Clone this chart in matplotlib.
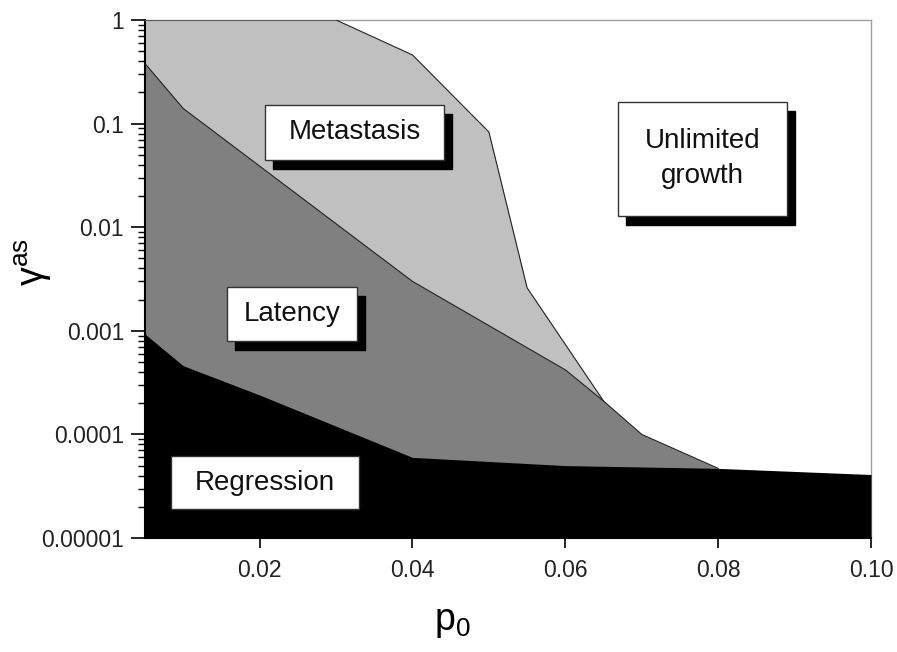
import matplotlib
matplotlib.use("Agg")
import matplotlib.pyplot as plt
from matplotlib.patches import Rectangle
from matplotlib.ticker import FixedLocator, FixedFormatter, LogLocator, NullFormatter

plt.rcParams['font.family'] = ['Liberation Sans', 'DejaVu Sans']
plt.rcParams['mathtext.fontset'] = 'custom'
plt.rcParams['mathtext.rm'] = 'Liberation Sans'
plt.rcParams['mathtext.it'] = 'Liberation Sans'

# ---- data ----
x_meta = [0.005, 0.03, 0.04, 0.05, 0.055, 0.065]
y_meta = [1.0, 1.0, 0.46, 0.083, 0.0026, 0.00021]

x_lat = [0.005, 0.01, 0.04, 0.06, 0.065, 0.07, 0.08]
y_lat = [0.38, 0.14, 0.003, 0.00042, 0.00021, 0.0001, 0.000047]

x_reg = [0.005, 0.01, 0.02, 0.03, 0.04, 0.06, 0.08, 0.10]
y_reg = [0.00093, 0.00046, 0.00024, 0.00012, 0.00006, 0.00005, 0.000047, 0.000041]

x_ticks = [0.02, 0.04, 0.06, 0.08, 0.10]
x_ticklabels = ["0.02", "0.04", "0.06", "0.08", "0.10"]
y_ticks = [1e-5, 1e-4, 1e-3, 1e-2, 1e-1, 1]
y_ticklabels = ["0.00001", "0.0001", "0.001", "0.01", "0.1", "1"]

region_labels = ["Metastasis", "Unlimited\ngrowth", "Latency", "Regression"]

fig = plt.figure(figsize=(8.97, 6.52), dpi=100)
ax = fig.add_axes([145/897, 1-538/652, (871-145)/897, (538-20)/652])
ax.set_yscale('log')
ax.set_xlim(0.005, 0.10)
ax.set_ylim(1e-5, 1)

ymin = 1e-5
ax.fill_between(x_meta, ymin, y_meta, color='#c0c0c0', lw=0, zorder=1)
ax.fill_between(x_lat, ymin, y_lat, color='#808080', lw=0, zorder=2)
ax.fill_between(x_reg, ymin, y_reg, color='black', lw=0, zorder=3)
ax.plot(x_meta, y_meta, color='#222222', lw=0.8, zorder=4)
ax.plot(x_lat, y_lat, color='#222222', lw=0.8, zorder=4)

# spines
for s in ['top', 'right']:
    ax.spines[s].set_color('#a0a0a0')
    ax.spines[s].set_linewidth(1.0)
ax.spines['left'].set_color('black')
ax.spines['left'].set_linewidth(1.5)
ax.spines['bottom'].set_color('black')
ax.spines['bottom'].set_linewidth(1.5)

ax.xaxis.set_major_locator(FixedLocator(x_ticks))
ax.xaxis.set_major_formatter(FixedFormatter(x_ticklabels))
ax.yaxis.set_major_locator(FixedLocator(y_ticks))
ax.yaxis.set_major_formatter(FixedFormatter(y_ticklabels))
ax.yaxis.set_minor_locator(LogLocator(base=10, subs=range(2, 10)))
ax.yaxis.set_minor_formatter(NullFormatter())
ax.tick_params(axis='x', which='major', direction='out', length=7, width=1.2,
               labelsize=16.5, colors='black', labelcolor='#222222', pad=8)
ax.tick_params(axis='y', which='major', direction='out', length=10, width=1.2,
               labelsize=16.5, labelcolor='#222222', pad=5)
ax.tick_params(axis='y', which='minor', direction='out', length=5, width=1.0)
ax.tick_params(axis='x', which='minor', length=0)

# labels
fig.text(452/897, 1-622/652, r'$\mathrm{p_0}$', fontsize=27, ha='center', va='center')
fig.text(33/897, 1-262/652, r'$\mathrm{\gamma^{as}}$', fontsize=27, ha='center',
         va='center', rotation=90)

# region label boxes (axes fraction coords)
boxes = [
    (0.165, 0.730, 0.247, 0.106),
    (0.652, 0.622, 0.232, 0.220),
    (0.113, 0.380, 0.179, 0.105),
    (0.036, 0.056, 0.259, 0.102),
]
dx, dy = 8/726, 9/518
for (bx, by, bw, bh), lab in zip(boxes, region_labels):
    ax.add_patch(Rectangle((bx+dx, by-dy), bw, bh, transform=ax.transAxes,
                           facecolor='black', edgecolor='black', zorder=5))
    ax.add_patch(Rectangle((bx, by), bw, bh, transform=ax.transAxes,
                           facecolor='white', edgecolor='#333333', lw=1.0, zorder=6))
    ax.text(bx+bw/2, by+bh/2, lab, transform=ax.transAxes, ha='center', va='center',
            fontsize=20, color='#111111', zorder=7, linespacing=1.45)

fig.savefig('out.png', dpi=100)
